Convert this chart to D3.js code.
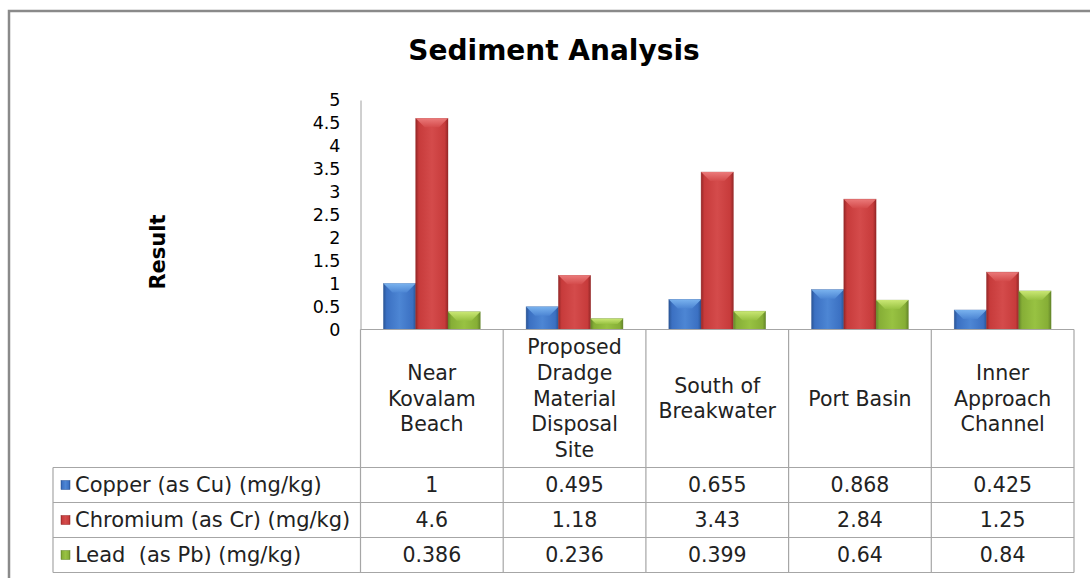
<!DOCTYPE html>
<html>
<head>
<meta charset="utf-8">
<script src="https://cdn.jsdelivr.net/npm/d3@7"></script>
<style>
  html, body { margin: 0; padding: 0; background: #fff; }
  svg { display: block; font-family: "DejaVu Sans", Verdana, sans-serif; }
  text { white-space: pre; }
</style>
</head>
<body>
<svg id="chart" width="1090" height="578"></svg>
<script>
const categories = [
  ["Near", "Kovalam", "Beach"],
  ["Proposed", "Dradge", "Material", "Disposal", "Site"],
  ["South of", "Breakwater"],
  ["Port Basin"],
  ["Inner", "Approach", "Channel"]
];
const seriesNames = ["Copper (as Cu) (mg/kg)", "Chromium (as Cr) (mg/kg)", "Lead  (as Pb) (mg/kg)"];
const copper = [1, 0.495, 0.655, 0.868, 0.425];
const chromium = [4.6, 1.18, 3.43, 2.84, 1.25];
const lead = [0.386, 0.236, 0.399, 0.64, 0.84];
const seriesValues = [copper, chromium, lead];
const seriesLabels = [
  ["1", "0.495", "0.655", "0.868", "0.425"],
  ["4.6", "1.18", "3.43", "2.84", "1.25"],
  ["0.386", "0.236", "0.399", "0.64", "0.84"]
];
const yTicks = [0, 0.5, 1, 1.5, 2, 2.5, 3, 3.5, 4, 4.5, 5];
const yTickLabels = ["0", "0.5", "1", "1.5", "2", "2.5", "3", "3.5", "4", "4.5", "5"];

const svg = d3.select("#chart");
const colors = [
  {base: "#3b70c2", light: "#4d86d4", dark: "#2a5596", top: "#7fb8f2"},
  {base: "#c73b3b", light: "#d44b4b", dark: "#952727", top: "#ee8080"},
  {base: "#86ae36", light: "#98c242", dark: "#64862a", top: "#d0ec7a"}
];

const defs = svg.append("defs");
colors.forEach((c, i) => {
  const g = defs.append("linearGradient").attr("id", "grad" + i)
    .attr("x1", 0).attr("x2", 1).attr("y1", 0).attr("y2", 0);
  g.append("stop").attr("offset", "0%").attr("stop-color", c.dark);
  g.append("stop").attr("offset", "10%").attr("stop-color", c.base);
  g.append("stop").attr("offset", "50%").attr("stop-color", c.light);
  g.append("stop").attr("offset", "90%").attr("stop-color", c.base);
  g.append("stop").attr("offset", "100%").attr("stop-color", c.dark);
  const t = defs.append("linearGradient").attr("id", "top" + i)
    .attr("x1", 0).attr("x2", 0).attr("y1", 0).attr("y2", 1);
  t.append("stop").attr("offset", "0%").attr("stop-color", c.top);
  t.append("stop").attr("offset", "100%").attr("stop-color", c.light);
});

// outer frame
svg.append("path").attr("d", "M9,580 L9,11 L1092,11")
  .attr("fill", "none").attr("stroke", "#8a8a8a").attr("stroke-width", 2.5);

// title
svg.append("text").attr("x", 554).attr("y", 60).attr("text-anchor", "middle")
  .attr("font-size", 28).attr("font-weight", "bold").attr("fill", "#000")
  .text("Sediment Analysis");

const plotLeft = 360.5, plotRight = 1074;
const x0 = d3.scaleBand().domain(d3.range(categories.length)).range([plotLeft, plotRight]).paddingInner(0).paddingOuter(0);
const x1 = d3.scaleBand().domain(d3.range(seriesValues.length)).range([0, x0.bandwidth()]).paddingInner(0).paddingOuter(0.71);
const y = d3.scaleLinear().domain([0, 5]).range([329.5, 100]);

// y axis
const yAxis = d3.axisLeft(y).tickValues(yTicks).tickFormat((d, i) => yTickLabels[i]).tickSize(0).tickPadding(20);
const ya = svg.append("g").attr("transform", `translate(${plotLeft},0)`).call(yAxis);
ya.select(".domain").attr("stroke", "#a0a0a0").attr("stroke-width", 1);
ya.selectAll("text").attr("font-size", 17.5).attr("fill", "#000").attr("font-family", "DejaVu Sans, Verdana, sans-serif");

// axis title
svg.append("text").attr("transform", `translate(165,252) rotate(-90)`).attr("text-anchor", "middle")
  .attr("font-size", 21).attr("font-weight", "bold").attr("fill", "#000").text("Result");

// bars
const bevel = 9;
const groups = svg.append("g").selectAll("g").data(categories).join("g")
  .attr("transform", (d, i) => `translate(${x0(i)},0)`);
seriesValues.forEach((vals, s) => {
  groups.each(function(d, i) {
    const g = d3.select(this);
    const bx = x1(s), bw = x1.bandwidth(), top = y(vals[i]), bot = y(0);
    const h = bot - top;
    const bv = Math.min(bevel, h / 2, bw / 3);
    g.append("rect").attr("x", bx).attr("y", top).attr("width", bw).attr("height", h)
      .attr("fill", `url(#grad${s})`).attr("stroke", colors[s].dark).attr("stroke-width", 0.6).attr("stroke-opacity", 0.6);
    g.append("path")
      .attr("d", `M${bx},${top} L${bx + bw},${top} L${bx + bw - bv},${top + bv} L${bx + bv},${top + bv} Z`)
      .attr("fill", `url(#top${s})`).attr("opacity", 0.9);
  });
});

// table
const rowTops = [467.5, 502.5, 537.5, 572.5];
const tableLeft = 53;
const gridColor = "#a6a6a6";
const grid = svg.append("g").attr("stroke", gridColor).attr("stroke-width", 1.2);
grid.append("line").attr("x1", plotLeft).attr("x2", plotRight).attr("y1", y(0)).attr("y2", y(0));
const bounds = d3.range(categories.length).map(i => x0(i)).concat([plotRight]);
bounds.forEach(bx => {
  grid.append("line").attr("x1", bx).attr("x2", bx).attr("y1", y(0)).attr("y2", rowTops[3]);
});
rowTops.forEach(ry => {
  grid.append("line").attr("x1", tableLeft).attr("x2", plotRight).attr("y1", ry).attr("y2", ry);
});
grid.append("line").attr("x1", tableLeft).attr("x2", tableLeft).attr("y1", rowTops[0]).attr("y2", rowTops[3]);

// category labels
const headerMid = (y(0) + rowTops[0]) / 2;
const lh = 25.8;
categories.forEach((lines, i) => {
  const cx = x0(i) + x0.bandwidth() / 2;
  const t = svg.append("text").attr("text-anchor", "middle").attr("font-size", 20.5).attr("fill", "#222");
  lines.forEach((ln, k) => {
    t.append("tspan").attr("x", cx)
      .attr("y", headerMid + (k - (lines.length - 1) / 2) * lh + 7)
      .text(ln);
  });
});

// series rows
seriesNames.forEach((name, s) => {
  const rm = (rowTops[s] + rowTops[s + 1]) / 2;
  svg.append("rect").attr("x", 61).attr("y", rm - 4.5).attr("width", 9).attr("height", 9)
    .attr("fill", `url(#grad${s})`).attr("stroke", colors[s].dark).attr("stroke-width", 0.5);
  svg.append("text").attr("x", 75).attr("y", rm + 7).attr("font-size", 21).attr("fill", "#222").text(name);
  seriesLabels[s].forEach((lab, i) => {
    svg.append("text").attr("x", x0(i) + x0.bandwidth() / 2).attr("y", rm + 7)
      .attr("text-anchor", "middle").attr("font-size", 20.5).attr("fill", "#222").text(lab);
  });
});
</script>
</body>
</html>
